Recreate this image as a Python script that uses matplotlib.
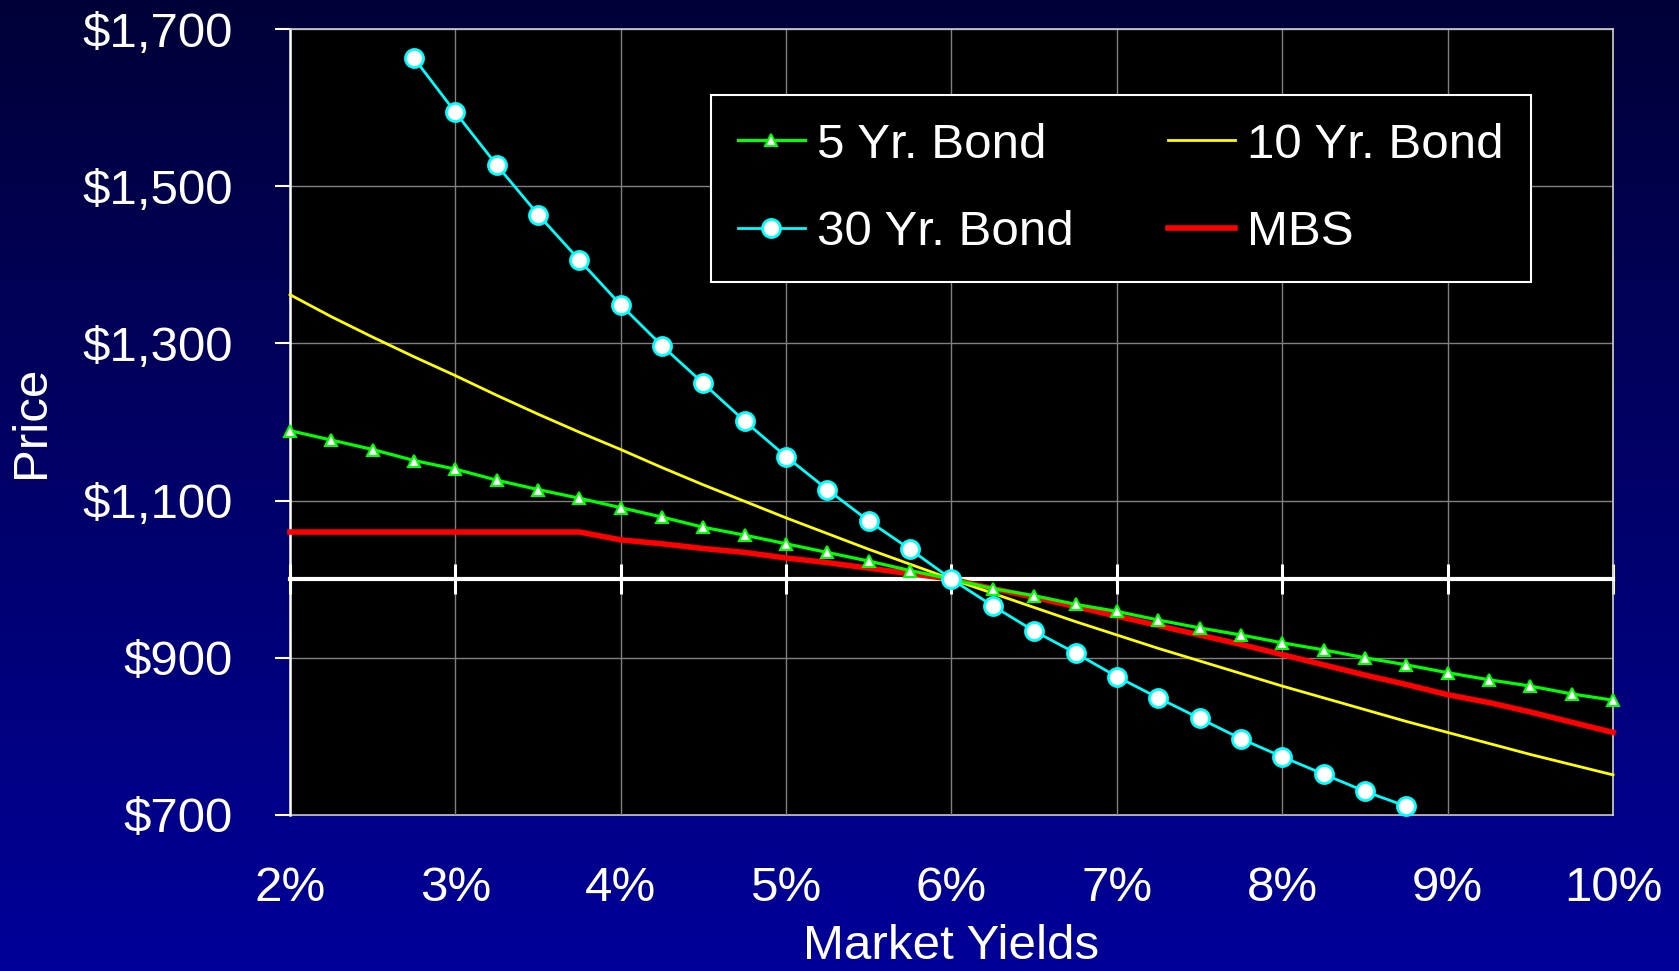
import numpy as np
import matplotlib.pyplot as plt
from matplotlib.ticker import FuncFormatter
from matplotlib.colors import LinearSegmentedColormap

plt.rcParams['font.family'] = ['Liberation Sans', 'DejaVu Sans']

# market yields (%) at quarter point steps
yields = [2.0, 2.25, 2.5, 2.75, 3.0, 3.25, 3.5, 3.75, 4.0, 4.25, 4.5, 4.75,
          5.0, 5.25, 5.5, 5.75, 6.0, 6.25, 6.5, 6.75, 7.0, 7.25, 7.5, 7.75,
          8.0, 8.25, 8.5, 8.75, 9.0, 9.25, 9.5, 9.75, 10.0]
yields_30 = [2.75, 3.0, 3.25, 3.5, 3.75, 4.0, 4.25, 4.5, 4.75, 5.0, 5.25, 5.5,
             5.75, 6.0, 6.25, 6.5, 6.75, 7.0, 7.25, 7.5, 7.75, 8.0, 8.25, 8.5, 8.75]

# prices
bond_5 = [1189, 1177, 1165, 1151, 1140, 1126, 1114, 1103, 1091, 1079, 1066, 1056,
          1045, 1034, 1023, 1011, 1000, 988, 979, 968, 959, 948, 938, 929,
          919, 910, 900, 891, 881, 872, 864, 854, 846]
bond_10 = [1362, 1334, 1308, 1283, 1259, 1234, 1210, 1187, 1165, 1142, 1120, 1099,
           1078, 1058, 1038, 1019, 1000, 982, 964, 946, 929, 912, 896, 880,
           864, 849, 834, 819, 805, 791, 777, 764, 751]
bond_30 = [1663, 1594, 1527, 1464, 1406, 1349, 1297, 1249, 1201, 1156, 1114, 1074,
           1038, 1000, 966, 934, 906, 876, 849, 823, 797, 774, 752, 730, 711]
mbs = [1060, 1060, 1060, 1060, 1060, 1060, 1060, 1060, 1050, 1045, 1039, 1034,
       1027, 1021, 1014, 1007, 1000, 988, 977, 965, 953, 941, 929, 917,
       904, 891, 878, 866, 853, 843, 831, 818, 805]

x_ticks = [2, 3, 4, 5, 6, 7, 8, 9, 10]
y_ticks = [700, 900, 1100, 1300, 1500, 1700]

FS = 35.5

fig = plt.figure(figsize=(16.79, 9.71), dpi=100)

# navy gradient background
bg = fig.add_axes([0, 0, 1, 1], zorder=-10)
grad = np.linspace(0, 1, 256).reshape(-1, 1)
cmap = LinearSegmentedColormap.from_list('bg', ['#000038', '#000099'])
bg.imshow(grad, aspect='auto', cmap=cmap, extent=[0, 1, 0, 1], origin='upper')
bg.axis('off')

ax = fig.add_axes([0.1727, 0.1607, 0.788, 0.8094])
ax.set_facecolor('black')

ax.plot(yields, mbs, color='#ff0000', lw=4, zorder=3, clip_on=False, label='MBS')
ax.plot(yields, bond_10, color='#ffff00', lw=2, zorder=4, clip_on=False, label='10 Yr. Bond')
ax.plot(yields, bond_5, color='#00ff00', lw=2.3, marker='^', ms=9, mfc='white',
        mec='#00ff00', mew=1.5, zorder=5, clip_on=False, label='5 Yr. Bond')
ax.plot(yields_30, bond_30, color='#00ffff', lw=2, marker='o', ms=13, mfc='white',
        mec='#00ffff', mew=2, zorder=6, clip_on=False, label='30 Yr. Bond')

ax.set_xlim(2, 10)
ax.set_ylim(700, 1700)
ax.set_xticks(x_ticks)
ax.set_yticks(y_ticks)
ax.grid(color='#808080', lw=1)
ax.set_axisbelow(True)

ax.yaxis.set_major_formatter(FuncFormatter(lambda v, p: '${:,.0f}'.format(v)))
ax.tick_params(axis='y', colors='white', labelsize=FS, length=11, width=1.5,
               direction='out', pad=30)

# x axis crosses at 1000
ax.spines['bottom'].set_position(('data', 1000))
ax.spines['bottom'].set_color('white')
ax.spines['bottom'].set_linewidth(3)
ax.spines['bottom'].set_zorder(2.8)
ax.tick_params(axis='x', direction='inout', length=21, width=2.2, color='white',
               labelbottom=False)
ax.spines['left'].set_color('white')
ax.spines['left'].set_linewidth(1.8)
for s in ['top', 'right']:
    ax.spines[s].set_color('#d0d0d0')
    ax.spines[s].set_linewidth(1.2)

# labels at the bottom of the plot area
secax = ax.secondary_xaxis('bottom')
secax.set_xticks(x_ticks)
secax.set_xticklabels([f'{t}%' for t in x_ticks])
secax.tick_params(length=0, pad=37, labelsize=FS, colors='white')
secax.spines['bottom'].set_color('#d0d0d0')
secax.spines['bottom'].set_linewidth(1.2)
secax.set_xlabel('Market Yields', fontsize=FS, color='white', labelpad=9)

ax.set_ylabel('Price', fontsize=FS, color='white')
ax.yaxis.set_label_coords(-0.178, 0.5)

h, l = ax.get_legend_handles_labels()
order = [2, 3, 1, 0]
leg = ax.legend([h[i] for i in order], [l[i] for i in order], ncol=2,
                loc='upper left', bbox_to_anchor=(0.318, 0.9155), borderaxespad=0,
                fontsize=FS, frameon=True, facecolor='black', edgecolor='white',
                framealpha=1, fancybox=False, handlelength=1.36, handletextpad=0.25,
                columnspacing=1.9, labelspacing=0.86, borderpad=0.55)
leg.get_frame().set_linewidth(1.5)
for t in leg.get_texts():
    t.set_color('white')
leg.set_zorder(10)

fig.savefig('out.png', dpi=100)
